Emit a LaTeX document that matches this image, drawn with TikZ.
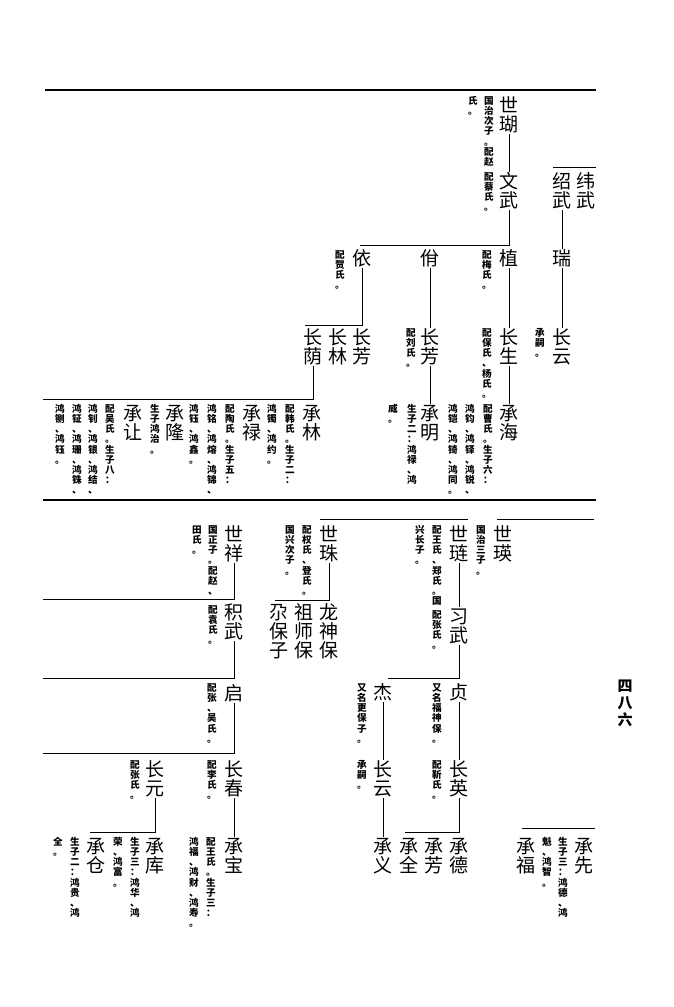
\documentclass[tikz,border=0pt]{standalone}
\usepackage{fontspec}
\newfontfamily\cjk{Noto Sans CJK SC}
\makeatletter
\def\vtend{\vtend@marker}
\def\vt@loop#1{\ifx#1\vtend\else\hbox to 1em{\hss\vrule height .88em depth .12em width 0pt\relax#1\hss}\expandafter\vt@loop\fi}
\newcommand\vtx[2]{\vbox{\baselineskip=#1\lineskiplimit=-\maxdimen\lineskip=0pt\vt@loop#2\vtend}}
\makeatother
\newcommand\nm[1]{\vtx{18.6pt}{#1}}
\newcommand\nt[1]{\vtx{10.1pt}{#1}}
\tikzset{
  pname/.style={font=\cjk\fontsize{19}{19}\selectfont, inner sep=0pt, anchor=north},
  pnote/.style={font=\cjk\bfseries\fontsize{9.6}{10}\selectfont, inner sep=0pt, anchor=north},
  pnum/.style={font=\cjk\bfseries\fontsize{15}{15}\selectfont, inner sep=0pt, anchor=north},
  link/.style={line width=0.9pt},
  rule/.style={line width=1.1pt},
  sep/.style={line width=2.3pt}
}
\begin{document}
\begin{tikzpicture}[x=1pt,y=-1pt]
\useasboundingbox (0,0) rectangle (674,1007);
% ---------- top section ----------
\coordinate (top1) at (45,90); \coordinate (top2) at (596,90);
\draw[rule] (top1) -- (top2);
\node[pname] (shihu) at (509,96) {\nm{世瑚}};
\node[pname] (wenwu) at (509,172) {\nm{文武}};
\node[pnote] (n1) at (489,96) {\nt{国治次子。配赵}};
\node[pnote] (n2) at (473,96) {\nt{氏。}};
\node[pnote] (n3) at (489,172) {\nt{配蔡氏。}};
\draw[link] (shihu.south) -- (wenwu.north);

\node[pname] (weiwu) at (586,172) {\nm{纬武}};
\node[pname] (shaowu) at (562,172) {\nm{绍武}};
\coordinate (wl1) at (553,167); \coordinate (wl2) at (596,167);
\draw[link] (wl1) -- (wl2);
\node[pname] (rui) at (562,249) {\nm{瑞}};
\node[pname] (changyunA) at (562,328) {\nm{长云}};
\node[pnote] (n4) at (540,328) {\nt{承嗣。}};
\draw[link] (shaowu.south) -- (rui.north);
\draw[link] (rui.south) -- (changyunA.north);

\node[pname] (zhi) at (509,249) {\nm{植}};
\node[pname] (yiB) at (430,249) {\nm{佾}};
\node[pname] (yiA) at (362,249) {\nm{依}};
\coordinate (b1) at (360,245);
\draw[link] (wenwu.south) |- (b1);
\node[pnote] (n5) at (340,250) {\nt{配贺氏。}};
\node[pnote] (n6) at (487,250) {\nt{配梅氏。}};

\node[pname] (changsheng) at (509,328) {\nm{长生}};
\node[pnote] (n7) at (487,328) {\nt{配保氏、杨氏。}};
\node[pname] (changfangB) at (430,328) {\nm{长芳}};
\node[pnote] (n8) at (411,328) {\nt{配刘氏。}};
\node[pname] (changfangA) at (362,328) {\nm{长芳}};
\node[pname] (changlin) at (338,328) {\nm{长林}};
\node[pname] (changyin) at (313,328) {\nm{长荫}};
\draw[link] (zhi.south) -- (changsheng.north);
\draw[link] (yiB.south) -- (changfangB.north);
\coordinate (b2) at (305,325);
\draw[link] (yiA.south) |- (b2);

\node[pname] (chenghai) at (509,404) {\nm{承海}};
\node[pnote] (n9) at (488,404) {\nt{配曹氏。生子六：}};
\node[pnote] (n10) at (470,404) {\nt{鸿钧、鸿铎、鸿锐、}};
\node[pnote] (n11) at (453,404) {\nt{鸿铠、鸿锜、鸿同。}};
\node[pname] (chengming) at (430,404) {\nm{承明}};
\node[pnote] (n12) at (412,404) {\nt{生子二：鸿禄、鸿}};
\node[pnote] (n13) at (393,404) {\nt{威。}};
\draw[link] (changsheng.south) -- (chenghai.north);
\draw[link] (changfangB.south) -- (chengming.north);

\coordinate (b3) at (43,399);
\draw[link] (changyin.south) |- (b3);
\node[pname] (chenglin) at (312,404) {\nm{承林}};
\node[pnote] (n14) at (290,404) {\nt{配韩氏。生子二：}};
\node[pnote] (n15) at (272,404) {\nt{鸿镯、鸿约。}};
\node[pname] (chenglu) at (252,404) {\nm{承禄}};
\node[pnote] (n16) at (230,404) {\nt{配陶氏。生子五：}};
\node[pnote] (n17) at (212,404) {\nt{鸿铭、鸿熔、鸿锦、}};
\node[pnote] (n18) at (194,404) {\nt{鸿钰、鸿鑫。}};
\node[pname] (chenglong) at (175,404) {\nm{承隆}};
\node[pnote] (n19) at (155,404) {\nt{生子鸿治。}};
\node[pname] (chengrang) at (133,404) {\nm{承让}};
\node[pnote] (n20) at (110,404) {\nt{配吴氏。生子八：}};
\node[pnote] (n21) at (93,404) {\nt{鸿钊、鸿银、鸿结、}};
\node[pnote] (n22) at (77,404) {\nt{鸿钲、鸿珊、鸿铢、}};
\node[pnote] (n23) at (60,404) {\nt{鸿铡、鸿钰。}};

% ---------- separator ----------
\coordinate (sep1) at (43,500); \coordinate (sep2) at (596,500);
\draw[sep] (sep1) -- (sep2);

% ---------- bottom section ----------
\coordinate (ta1) at (497,519); \coordinate (ta2) at (594,519);
\draw[link] (ta1) -- (ta2);
\coordinate (tb1) at (320,519); \coordinate (tb2) at (468,519);
\draw[link] (tb1) -- (tb2);

\node[pname] (shiying) at (503,525) {\nm{世瑛}};
\node[pnote] (n24) at (481,525) {\nt{国治三子。}};

\node[pname] (shilian) at (459,525) {\nm{世琏}};
\node[pnote] (n25) at (437,525) {\nt{配王氏、郑氏。国}};
\node[pnote] (n26) at (420,525) {\nt{兴长子。}};
\node[pname] (xiwu) at (459,607) {\nm{习武}};
\node[pnote] (n27) at (437,610) {\nt{配张氏。}};
\draw[link] (shilian.south) -- (xiwu.north);

\coordinate (b9) at (388,678);
\draw[link] (xiwu.south) |- (b9);
\node[pname] (zhen) at (459,683) {\nm{贞}};
\node[pnote] (n28) at (437,683) {\nt{又名福神保。}};
\node[pname] (jie) at (383,683) {\nm{杰}};
\node[pnote] (n29) at (362,683) {\nt{又名更保子。}};
\node[pname] (changying) at (459,760) {\nm{长英}};
\node[pnote] (n30) at (437,760) {\nt{配靳氏。}};
\node[pname] (changyunB) at (383,760) {\nm{长云}};
\node[pnote] (n31) at (362,760) {\nt{承嗣。}};
\draw[link] (zhen.south) -- (changying.north);
\draw[link] (jie.south) -- (changyunB.north);
\coordinate (b10) at (405,832);
\draw[link] (changying.south) |- (b10);
\node[pname] (chengde) at (459,837) {\nm{承德}};
\node[pname] (chengfang) at (434,837) {\nm{承芳}};
\node[pname] (chengquan) at (409,837) {\nm{承全}};
\node[pname] (chengyi) at (383,837) {\nm{承义}};
\draw[link] (changyunB.south) -- (chengyi.north);

\coordinate (tc1) at (522,828); \coordinate (tc2) at (595,828);
\draw[link] (tc1) -- (tc2);
\node[pname] (chengxian) at (584,837) {\nm{承先}};
\node[pnote] (n32) at (563,837) {\nt{生子三：鸿德、鸿}};
\node[pnote] (n33) at (547,837) {\nt{魁、鸿智。}};
\node[pname] (chengfu) at (526,837) {\nm{承福}};

\node[pname] (shizhu) at (329,525) {\nm{世珠}};
\node[pnote] (n34) at (307,525) {\nt{配权氏、登氏。}};
\node[pnote] (n35) at (290,525) {\nt{国兴次子。}};
\coordinate (b4) at (275,600);
\draw[link] (shizhu.south) |- (b4);
\node[pname] (longshenbao) at (329,603) {\nm{龙神保}};
\node[pname] (zushibao) at (304,603) {\nm{祖师保}};
\node[pname] (gabaozi) at (279,603) {\nm{尕保子}};

\node[pname] (shixiang) at (234,525) {\nm{世祥}};
\node[pnote] (n36) at (213,525) {\nt{国正子。配赵、}};
\node[pnote] (n37) at (197,525) {\nt{田氏。}};
\coordinate (b5) at (43,599);
\draw[link] (shixiang.south) |- (b5);
\node[pname] (jiwu) at (234,603) {\nm{积武}};
\node[pnote] (n38) at (213,605) {\nt{配袁氏。}};
\coordinate (b6) at (43,678);
\draw[link] (jiwu.south) |- (b6);
\node[pname] (qi) at (234,684) {\nm{启}};
\node[pnote] (n39) at (212,683) {\nt{配张、吴氏。}};
\coordinate (b7) at (43,753);
\draw[link] (qi.south) |- (b7);
\node[pname] (changchun) at (234,760) {\nm{长春}};
\node[pnote] (n40) at (212,760) {\nt{配李氏。}};
\node[pname] (changyuan) at (155,760) {\nm{长元}};
\node[pnote] (n41) at (135,760) {\nt{配张氏。}};
\node[pname] (chengbao) at (234,837) {\nm{承宝}};
\node[pnote] (n42) at (211,837) {\nt{配王氏。生子三：}};
\node[pnote] (n43) at (194,837) {\nt{鸿福、鸿财、鸿寿。}};
\draw[link] (changchun.south) -- (chengbao.north);
\coordinate (b8) at (90,832);
\draw[link] (changyuan.south) |- (b8);
\node[pname] (chengku) at (155,837) {\nm{承库}};
\node[pnote] (n44) at (135,837) {\nt{生子三：鸿华、鸿}};
\node[pnote] (n45) at (118,837) {\nt{荣、鸿富。}};
\node[pname] (chengcang) at (96,837) {\nm{承仓}};
\node[pnote] (n46) at (75,837) {\nt{生子二：鸿贵、鸿}};
\node[pnote] (n47) at (58,837) {\nt{全。}};

% page number
\node[pnum] (pagenum) at (625,678) {\vtx{17pt}{四八六}};
\end{tikzpicture}
\end{document}
